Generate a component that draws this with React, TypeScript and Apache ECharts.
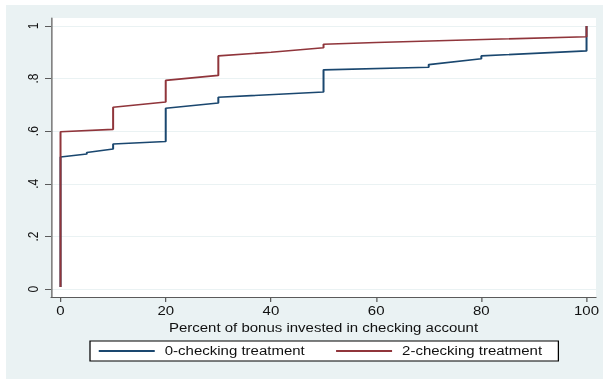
import React, { useEffect, useRef } from "react";
import * as echarts from "echarts";

// ---- data ----
const seriesNames = ["0-checking treatment", "2-checking treatment"];

const checking0X = [0, 0, 5, 5, 10, 10, 20, 20, 30, 30, 50, 50, 70, 70, 80, 80, 100, 100];
const checking0Y = [0.008, 0.502, 0.513, 0.519, 0.532, 0.551, 0.561, 0.687, 0.707, 0.729, 0.749, 0.833, 0.843, 0.853, 0.875, 0.886, 0.905, 1.0];

const checking2X = [0, 0, 10, 10, 20, 20, 30, 30, 40, 50, 50, 60, 100, 100];
const checking2Y = [0.008, 0.598, 0.607, 0.691, 0.711, 0.793, 0.812, 0.886, 0.9, 0.917, 0.93, 0.937, 0.959, 1.0];

const xTicks = [0, 20, 40, 60, 80, 100];
const yTicks = [0, 0.2, 0.4, 0.6, 0.8, 1];
const yTickLabels = ["0", ".2", ".4", ".6", ".8", "1"];

const xTitle = "Percent of bonus invested in checking account";

// ---- style ----
const STRETCH = 1.25;
const W = 603 / STRETCH;
const H = 381;
const FONT = "'Liberation Sans', Arial, Helvetica, sans-serif";
const NAVY = "#1A476F";
const MAROON = "#90353B";
const BG = "#EAF2F3";
const AXIS = "#5a5a5a";

const zip = (xs: number[], ys: number[]) => xs.map((x, i) => [x, ys[i]]);

export default function App() {
  const ref = useRef<HTMLDivElement>(null);
  useEffect(() => {
    if (!ref.current) return;
    const chart = echarts.init(ref.current, null, { renderer: "svg", width: W, height: H });
    chart.setOption({
      animation: false,
      textStyle: { fontFamily: FONT },
      grid: {
        left: 51 / STRETCH,
        right: 7 / STRETCH,
        top: 18,
        bottom: 84,
        show: true,
        backgroundColor: "#ffffff",
        borderWidth: 0,
        containLabel: false,
        outerBoundsMode: "none",
      },
      xAxis: {
        type: "value",
        min: -1.81,
        max: 101.8,
        axisLine: { show: true, onZero: false, lineStyle: { color: AXIS, width: 1 } },
        axisTick: { show: true, length: 5, customValues: xTicks, lineStyle: { color: AXIS } },
        axisLabel: {
          customValues: xTicks,
          fontSize: 12,
          color: "#111",
          margin: 8,
          fontFamily: FONT,
        },
        splitLine: { show: false },
        name: xTitle,
        nameLocation: "middle",
        nameGap: 21,
        nameTextStyle: { fontSize: 12, color: "#111", fontFamily: FONT },
      },
      yAxis: {
        type: "value",
        min: -0.03,
        max: 1.03,
        axisLine: { show: true, onZero: false, lineStyle: { color: AXIS, width: 1 } },
        axisTick: { show: true, length: 6 / STRETCH, customValues: yTicks, lineStyle: { color: AXIS } },
        axisLabel: {
          customValues: yTicks,
          rotate: 90,
          fontSize: 12,
          color: "#111",
          margin: 8,
          fontFamily: FONT,
          formatter: (v: number) => {
            const i = yTicks.findIndex((t) => Math.abs(t - v) < 1e-9);
            return i >= 0 ? yTickLabels[i] : "";
          },
        },
        splitLine: { show: true, lineStyle: { color: BG, width: 1 } },
      },
      legend: {
        data: seriesNames,
        left: 90 / STRETCH,
        top: 341,
        orient: "horizontal",
        itemWidth: 56 / STRETCH,
        itemHeight: 14,
        itemGap: 24,
        padding: [4, 13, 4, 6],
        borderColor: "#000",
        borderWidth: 1,
        borderRadius: 0,
        backgroundColor: "#ffffff",
        itemStyle: { opacity: 0, borderWidth: 0, color: "transparent" },
        textStyle: { fontSize: 12, color: "#111", fontFamily: FONT, padding: [0, 0, 0, 3] },
      },
      series: [
        {
          name: seriesNames[0],
          type: "line",
          symbol: "none",
          data: zip(checking0X, checking0Y),
          lineStyle: { color: NAVY, width: 1.6 },
          itemStyle: { color: NAVY },
          z: 2,
        },
        {
          name: seriesNames[1],
          type: "line",
          symbol: "none",
          data: zip(checking2X, checking2Y),
          lineStyle: { color: MAROON, width: 1.6 },
          itemStyle: { color: MAROON },
          z: 3,
        },
      ],
    });
    return () => chart.dispose();
  }, []);

  return (
    <>
      <div
        style={{
          position: "fixed",
          left: 6,
          top: 5,
          width: 597,
          height: 374,
          background: BG,
        }}
      />
      <div
        ref={ref}
        style={{
          position: "fixed",
          left: 0,
          top: 0,
          width: W,
          height: H,
          transform: `scaleX(${STRETCH})`,
          transformOrigin: "0 0",
        }}
      />
    </>
  );
}
